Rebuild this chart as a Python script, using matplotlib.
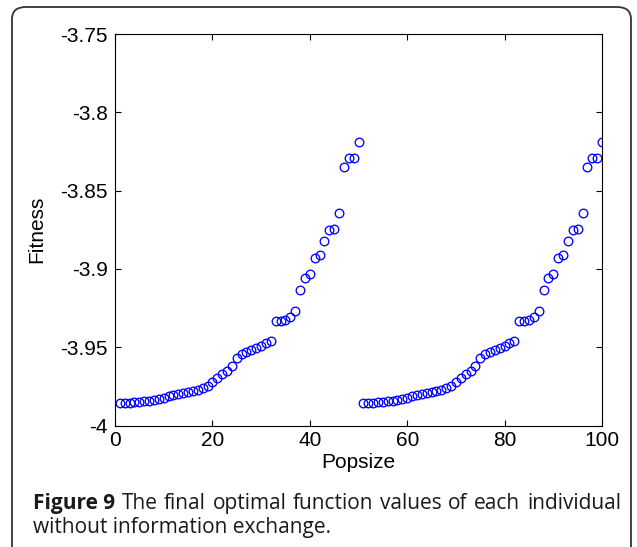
import matplotlib
matplotlib.use("Agg")
import matplotlib.pyplot as plt
from matplotlib.patches import FancyBboxPatch

# ---- data ----
popsize_first = list(range(1, 51))
fitness_first = [
    -3.9855, -3.9855, -3.9854, -3.9852, -3.9848, -3.9845, -3.9843, -3.9840, -3.9833, -3.9822,
    -3.9812, -3.9806, -3.9800, -3.9794, -3.9788, -3.9782, -3.9775, -3.9762, -3.9745, -3.9720,
    -3.9695, -3.9670, -3.9650, -3.9620, -3.9570, -3.9545, -3.9532, -3.9520, -3.9508, -3.9490,
    -3.9475, -3.9462, -3.9330, -3.9330, -3.9325, -3.9310, -3.9270, -3.9136, -3.9060, -3.9030,
    -3.8930, -3.8910, -3.8825, -3.8750, -3.8745, -3.8640, -3.8350, -3.8295, -3.8290, -3.8190,
]
popsize_second = list(range(51, 101))
fitness_second = [
    -3.9855, -3.9855, -3.9854, -3.9852, -3.9848, -3.9845, -3.9843, -3.9840, -3.9833, -3.9822,
    -3.9812, -3.9806, -3.9800, -3.9794, -3.9788, -3.9782, -3.9775, -3.9762, -3.9745, -3.9720,
    -3.9695, -3.9670, -3.9650, -3.9620, -3.9570, -3.9545, -3.9532, -3.9520, -3.9508, -3.9490,
    -3.9475, -3.9462, -3.9330, -3.9330, -3.9325, -3.9310, -3.9270, -3.9136, -3.9060, -3.9030,
    -3.8930, -3.8910, -3.8825, -3.8750, -3.8745, -3.8640, -3.8350, -3.8295, -3.8290, -3.8190,
]
x_ticks = [0, 20, 40, 60, 80, 100]
y_ticks = [-4, -3.95, -3.9, -3.85, -3.8, -3.75]
y_tick_labels = ["-4", "-3.95", "-3.9", "-3.85", "-3.8", "-3.75"]

W, H = 637, 547
fig = plt.figure(figsize=(W / 100, H / 100), dpi=100)
fig.patch.set_facecolor("white")

# rounded frame around figure + caption
frame = FancyBboxPatch((12 / W, -0.05), (631 - 12) / W, (547 - 7) / H + 0.05,
                       boxstyle="round,pad=0,rounding_size=0.022",
                       transform=fig.transFigure, fill=False,
                       edgecolor="#333333", linewidth=1.3, clip_on=False)
fig.patches.append(frame)

left, right, top, bottom = 115, 602, 34, 425.5
ax = fig.add_axes([left / W, 1 - bottom / H, (right - left) / W, (bottom - top) / H])

ax.plot(popsize_first, fitness_first, "o", mfc="none", mec="#0000FF", ms=6.2, mew=0.95)
ax.plot(popsize_second, fitness_second, "o", mfc="none", mec="#0000FF", ms=6.2, mew=0.95)

ax.set_xlim(0, 100)
ax.set_ylim(-4, -3.75)
ax.set_xticks(x_ticks)
ax.set_xticklabels([str(v) for v in x_ticks])
ax.set_yticks(y_ticks)
ax.set_yticklabels(y_tick_labels)

font = "Liberation Sans"
for lab in ax.get_xticklabels() + ax.get_yticklabels():
    lab.set_fontfamily(font)
    lab.set_fontsize(15)

ax.tick_params(direction="in", length=4, width=0.8, top=True, right=True, colors="black")
ax.tick_params(axis="x", pad=4)
ax.tick_params(axis="y", pad=5)
for s in ax.spines.values():
    s.set_linewidth(0.8)
    s.set_color("black")

ax.set_xlabel("Popsize", fontfamily=font, fontsize=15, labelpad=2)
ax.set_ylabel("Fitness", fontfamily=font, fontsize=15, labelpad=10)

# caption (line 1 justified to the right margin)
cap_font = "Open Sans"
cap_size = 15
y1 = 1 - 509 / H
y2 = 1 - 533 / H
x_left, x_right = 33, 621
t1 = fig.text(x_left / W, y1, "Figure 9", fontfamily=cap_font, fontweight="bold",
              fontsize=cap_size, va="baseline", ha="left", color="#1a1a1a")
words = "The final optimal function values of each individual".split()
fig.canvas.draw()
r = fig.canvas.get_renderer()
bb = t1.get_window_extent(r)
word_texts = []
widths = []
for w in words:
    t = fig.text(0, y1, w, fontfamily=cap_font, fontsize=cap_size, va="baseline",
                 ha="left", color="#1a1a1a")
    word_texts.append(t)
    widths.append(t.get_window_extent(r).width)
gap = (x_right - bb.x1 - sum(widths)) / len(words)
xpos = bb.x1 + gap
for t, wdt in zip(word_texts, widths):
    t.set_x(xpos / W)
    xpos += wdt + gap
fig.text(x_left / W, y2, "without information exchange.", fontfamily=cap_font,
         fontsize=cap_size, va="baseline", ha="left", color="#1a1a1a")

fig.savefig("out.png", dpi=100)
